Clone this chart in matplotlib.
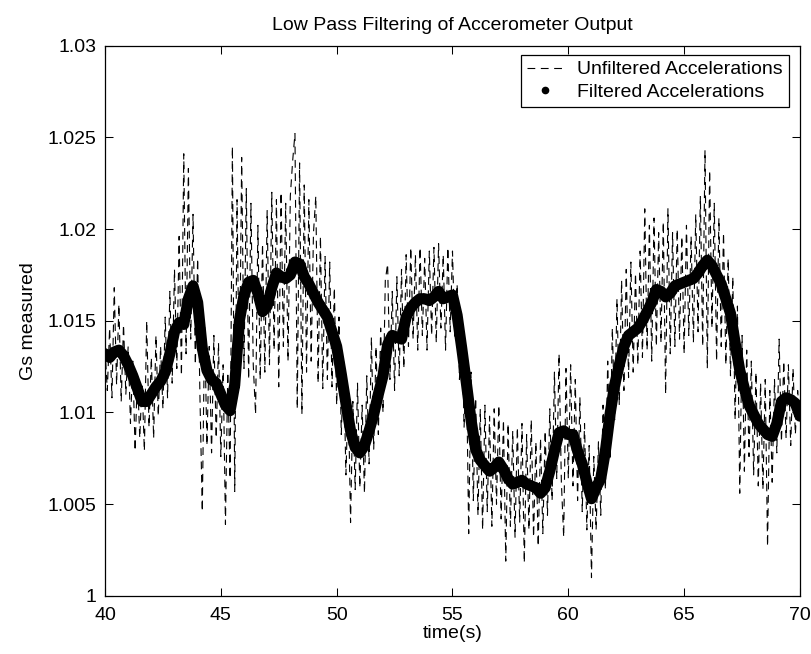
import numpy as np
import matplotlib.pyplot as plt
from matplotlib.lines import Line2D

plt.rcParams['font.family'] = ['Liberation Sans', 'DejaVu Sans']

# raw accelerometer samples, 40 s .. 70 s every 0.1 s (Gs)
unfiltered = [
    1.0135, 1.0112, 1.0146, 1.0108, 1.0168, 1.0115, 1.0159, 1.0106, 1.0148, 1.0110,
    1.0136, 1.0094, 1.0128, 1.0079, 1.0122, 1.0086, 1.0116, 1.0079, 1.0150, 1.0092,
    1.0130, 1.0086, 1.0142, 1.0098, 1.0136, 1.0102, 1.0152, 1.0108, 1.0166, 1.0116,
    1.0178, 1.0124, 1.0196, 1.0120, 1.0241, 1.0132, 1.0233, 1.0140, 1.0208, 1.0126,
    1.0184, 1.0108, 1.0046, 1.0148, 1.0082, 1.0136, 1.0078, 1.0142, 1.0086, 1.0138,
    1.0076, 1.0126, 1.0039, 1.0122, 1.0064, 1.0245, 1.0057, 1.0216, 1.0112, 1.0239,
    1.0124, 1.0222, 1.0118, 1.0214, 1.0126, 1.0099, 1.0202, 1.0118, 1.0192, 1.0122,
    1.0210, 1.0126, 1.0220, 1.0134, 1.0216, 1.0114, 1.0220, 1.0136, 1.0214, 1.0128,
    1.0218, 1.0237, 1.0252, 1.0102, 1.0236, 1.0099, 1.0224, 1.0122, 1.0216, 1.0128,
    1.0198, 1.0218, 1.0116, 1.0196, 1.0113, 1.0185, 1.0118, 1.0182, 1.0114, 1.0168,
    1.0104, 1.0152, 1.0088, 1.0128, 1.0066, 1.0112, 1.0040, 1.0106, 1.0058, 1.0116,
    1.0059, 1.0104, 1.0056, 1.0120, 1.0072, 1.0141, 1.0080, 1.0136, 1.0088, 1.0146,
    1.0100, 1.0172, 1.0181, 1.0118, 1.0166, 1.0112, 1.0174, 1.0120, 1.0178, 1.0124,
    1.0186, 1.0136, 1.0190, 1.0140, 1.0186, 1.0134, 1.0190, 1.0142, 1.0184, 1.0134,
    1.0188, 1.0142, 1.0190, 1.0138, 1.0192, 1.0146, 1.0186, 1.0134, 1.0190, 1.0144,
    1.0188, 1.0140, 1.0170, 1.0118, 1.0152, 1.0092, 1.0126, 1.0034, 1.0122, 1.0052,
    1.0108, 1.0044, 1.0102, 1.0036, 1.0104, 1.0046, 1.0098, 1.0038, 1.0102, 1.0050,
    1.0104, 1.0042, 1.0096, 1.0019, 1.0094, 1.0038, 1.0090, 1.0032, 1.0092, 1.0040,
    1.0094, 1.0018, 1.0088, 1.0036, 1.0096, 1.0032, 1.0084, 1.0027, 1.0086, 1.0034,
    1.0090, 1.0044, 1.0102, 1.0052, 1.0122, 1.0064, 1.0132, 1.0062, 1.0032, 1.0124,
    1.0064, 1.0126, 1.0060, 1.0118, 1.0052, 1.0108, 1.0046, 1.0094, 1.0036, 1.0082,
    1.0010, 1.0076, 1.0036, 1.0084, 1.0044, 1.0104, 1.0058, 1.0128, 1.0074, 1.0146,
    1.0096, 1.0162, 1.0104, 1.0172, 1.0112, 1.0178, 1.0119, 1.0182, 1.0122, 1.0176,
    1.0126, 1.0188, 1.0130, 1.0211, 1.0134, 1.0202, 1.0128, 1.0206, 1.0136, 1.0198,
    1.0138, 1.0204, 1.0110, 1.0211, 1.0132, 1.0198, 1.0136, 1.0200, 1.0140, 1.0196,
    1.0132, 1.0202, 1.0142, 1.0196, 1.0138, 1.0208, 1.0144, 1.0218, 1.0136, 1.0243,
    1.0124, 1.0232, 1.0146, 1.0214, 1.0128, 1.0206, 1.0136, 1.0198, 1.0126, 1.0184,
    1.0120, 1.0174, 1.0096, 1.0158, 1.0056, 1.0142, 1.0068, 1.0134, 1.0076, 1.0128,
    1.0066, 1.0122, 1.0060, 1.0116, 1.0058, 1.0118, 1.0027, 1.0112, 1.0062, 1.0118,
    1.0078, 1.0140, 1.0084, 1.0128, 1.0086, 1.0126, 1.0082, 1.0124, 1.0088, 1.0112,
    1.0096,
]

# low pass filter output, 40 s .. 70 s every 0.2 s (Gs)
filtered = [
    1.0132, 1.0130, 1.0133, 1.0134, 1.0131, 1.0126, 1.0120, 1.0113, 1.0106, 1.0106,
    1.0110, 1.0114, 1.0117, 1.0122, 1.0132, 1.0144, 1.0149, 1.0148, 1.0162, 1.0169,
    1.0160, 1.0135, 1.0123, 1.0118, 1.0116, 1.0110, 1.0104, 1.0101, 1.0115, 1.0150,
    1.0164, 1.0171, 1.0172, 1.0165, 1.0155, 1.0158, 1.0168, 1.0176, 1.0174, 1.0173,
    1.0175, 1.0182, 1.0181, 1.0174, 1.0170, 1.0165, 1.0160, 1.0156, 1.0152, 1.0144,
    1.0136, 1.0121, 1.0105, 1.0090, 1.0081, 1.0078, 1.0082, 1.0090, 1.0099, 1.0110,
    1.0120, 1.0137, 1.0142, 1.0141, 1.0140, 1.0152, 1.0157, 1.0160, 1.0162, 1.0162,
    1.0161, 1.0163, 1.0166, 1.0162, 1.0163, 1.0164, 1.0153, 1.0135, 1.0116, 1.0096,
    1.0080, 1.0074, 1.0071, 1.0068, 1.0070, 1.0073, 1.0069, 1.0064, 1.0061, 1.0062,
    1.0063, 1.0061, 1.0060, 1.0059, 1.0056, 1.0059, 1.0068, 1.0079, 1.0089, 1.0090,
    1.0088, 1.0088, 1.0079, 1.0072, 1.0062, 1.0053, 1.0059, 1.0064, 1.0079, 1.0099,
    1.0115, 1.0126, 1.0136, 1.0142, 1.0144, 1.0146, 1.0150, 1.0155, 1.0160, 1.0167,
    1.0166, 1.0163, 1.0165, 1.0169, 1.0170, 1.0171, 1.0172, 1.0173, 1.0176, 1.0180,
    1.0183, 1.0180, 1.0175, 1.0170, 1.0162, 1.0154, 1.0138, 1.0123, 1.0113, 1.0104,
    1.0099, 1.0094, 1.0091, 1.0088, 1.0087, 1.0094, 1.0106, 1.0108, 1.0107, 1.0105,
    1.0098,
]

t_raw = np.linspace(40, 70, len(unfiltered))
t_filt = np.linspace(40, 70, len(filtered))

fig = plt.figure(figsize=(8.12, 6.54), dpi=100)
ax = fig.add_axes([0.1293, 0.0887, 0.8559, 0.8417])

ax.plot(t_raw, unfiltered, color='k', lw=0.8, dashes=(7, 5))
ax.plot(t_filt, filtered, color='k', lw=8, solid_joinstyle='round', solid_capstyle='round')

ax.set_xlim(40, 70)
ax.set_ylim(1.0, 1.03)
ax.set_xticks([40, 45, 50, 55, 60, 65, 70])
ax.set_yticks([1.0, 1.005, 1.01, 1.015, 1.02, 1.025, 1.03])
ax.set_yticklabels(['1', '1.005', '1.01', '1.015', '1.02', '1.025', '1.03'])
ax.tick_params(direction='in', length=5.5, width=0.75, top=True, right=True,
               labelsize=14, pad=6)
ax.tick_params(axis='x', pad=8)
for s in ax.spines.values():
    s.set_linewidth(0.9)

ax.set_title('Low Pass Filtering of Accerometer Output', fontsize=14, pad=11)
ax.set_xlabel('time(s)', fontsize=14, labelpad=1)
ax.set_ylabel('Gs measured', fontsize=14, labelpad=8)

# legend: three dashes for the raw trace, one dot for the filtered one
handles = [Line2D([], [], color='k', lw=0.8, dashes=(7, 5)),
           Line2D([], [], color='k', ls='none', marker='.', ms=9)]
leg = ax.legend(handles, ['Unfiltered Accelerations', 'Filtered Accelerations'],
                loc='upper right', bbox_to_anchor=(0.984, 0.983), fontsize=14,
                fancybox=False, edgecolor='k', framealpha=1, borderpad=0.3,
                labelspacing=0.25, handlelength=1.9, handletextpad=0.7,
                borderaxespad=0)
leg.get_frame().set_linewidth(0.9)

fig.savefig('out.png', dpi=100)
